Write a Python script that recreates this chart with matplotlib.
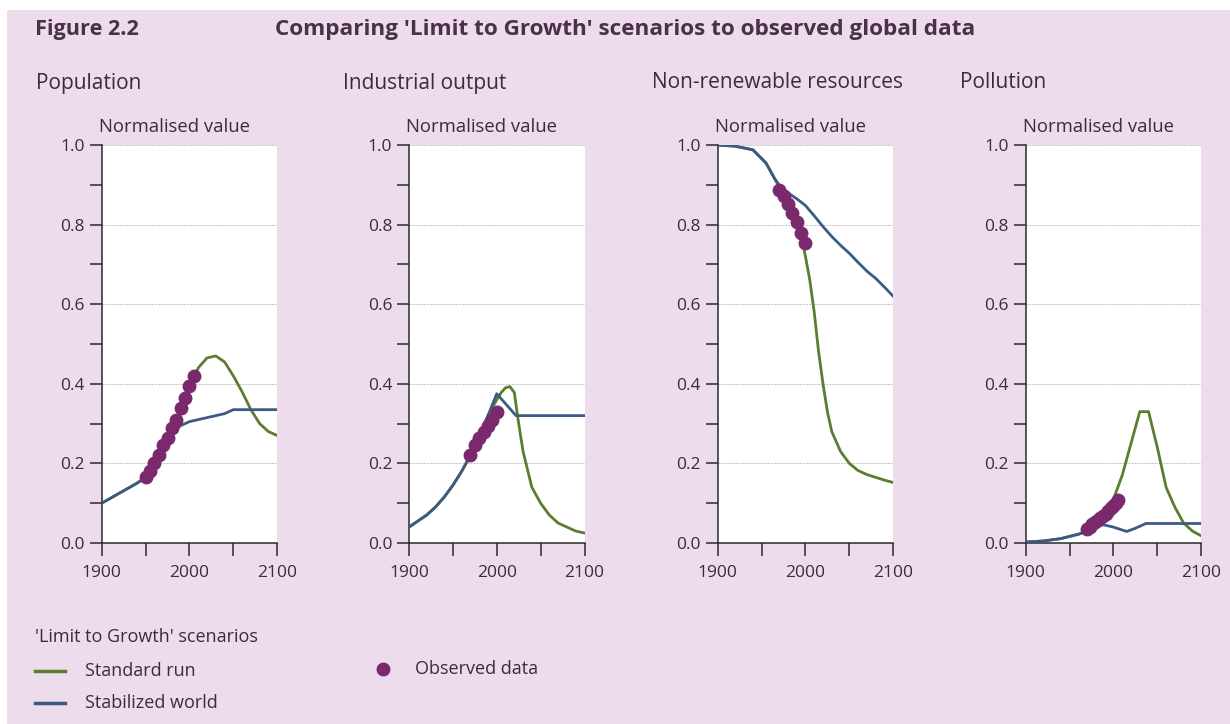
import matplotlib
matplotlib.use("Agg")
import matplotlib.pyplot as plt
from matplotlib.lines import Line2D
from matplotlib.patches import Rectangle

plt.rcParams['font.family'] = ['Open Sans', 'DejaVu Sans']

# colours
BG = '#eddcec'
GREEN = '#5b7d30'
BLUE = '#3b5b85'
PURPLE = '#7a2a6c'
TXT = '#3a2c3a'

# data
panel_titles = ['Population', 'Industrial output', 'Non-renewable resources', 'Pollution']

pop_std_x = [1900, 1920, 1940, 1950, 1960, 1970, 1980, 1990, 2000, 2010, 2020, 2030, 2040, 2050, 2060, 2070, 2080, 2090, 2100]
pop_std_y = [0.10, 0.125, 0.15, 0.165, 0.19, 0.225, 0.27, 0.33, 0.39, 0.44, 0.465, 0.47, 0.455, 0.42, 0.38, 0.335, 0.30, 0.28, 0.27]
pop_stab_x = [1900, 1920, 1940, 1950, 1960, 1970, 1980, 1985, 1990, 2000, 2010, 2020, 2030, 2040, 2050, 2060, 2100]
pop_stab_y = [0.10, 0.125, 0.15, 0.165, 0.19, 0.225, 0.27, 0.285, 0.295, 0.305, 0.31, 0.315, 0.32, 0.325, 0.335, 0.335, 0.335]
pop_obs_x = [1950, 1955, 1960, 1965, 1970, 1975, 1980, 1985, 1990, 1995, 2000, 2005]
pop_obs_y = [0.165, 0.18, 0.20, 0.22, 0.245, 0.265, 0.29, 0.31, 0.34, 0.365, 0.395, 0.42]

ind_std_x = [1900, 1910, 1920, 1930, 1940, 1950, 1960, 1970, 1980, 1990, 1995, 2000, 2005, 2010, 2015, 2020, 2025, 2030, 2040, 2050, 2060, 2070, 2080, 2090, 2100]
ind_std_y = [0.04, 0.055, 0.07, 0.09, 0.115, 0.145, 0.18, 0.22, 0.27, 0.32, 0.34, 0.36, 0.378, 0.39, 0.393, 0.378, 0.30, 0.23, 0.14, 0.10, 0.07, 0.05, 0.04, 0.03, 0.025]
ind_stab_x = [1900, 1910, 1920, 1930, 1940, 1950, 1960, 1970, 1980, 1990, 2000, 2010, 2022, 2100]
ind_stab_y = [0.04, 0.055, 0.07, 0.09, 0.115, 0.145, 0.18, 0.22, 0.27, 0.32, 0.375, 0.35, 0.32, 0.32]
ind_obs_x = [1970, 1975, 1980, 1985, 1990, 1995, 2000]
ind_obs_y = [0.22, 0.245, 0.265, 0.28, 0.295, 0.31, 0.33]

res_std_x = [1900, 1920, 1940, 1955, 1965, 1970, 1980, 1990, 1995, 2000, 2005, 2010, 2015, 2020, 2025, 2030, 2040, 2050, 2060, 2070, 2080, 2090, 2100]
res_std_y = [1.0, 0.997, 0.988, 0.955, 0.915, 0.895, 0.86, 0.81, 0.775, 0.72, 0.66, 0.58, 0.48, 0.40, 0.33, 0.28, 0.23, 0.20, 0.182, 0.172, 0.165, 0.158, 0.152]
res_stab_x = [1900, 1920, 1940, 1955, 1965, 1970, 1980, 1990, 2000, 2010, 2020, 2030, 2040, 2050, 2060, 2070, 2080, 2090, 2100]
res_stab_y = [1.0, 0.997, 0.988, 0.955, 0.915, 0.90, 0.88, 0.865, 0.848, 0.822, 0.795, 0.77, 0.748, 0.728, 0.705, 0.683, 0.665, 0.643, 0.62]
res_obs_x = [1970, 1975, 1980, 1985, 1990, 1995, 2000]
res_obs_y = [0.888, 0.872, 0.852, 0.828, 0.806, 0.78, 0.755]

pol_std_x = [1900, 1920, 1940, 1960, 1970, 1980, 1990, 2000, 2010, 2020, 2030, 2040, 2050, 2060, 2070, 2080, 2090, 2100]
pol_std_y = [0.0025, 0.005, 0.011, 0.022, 0.03, 0.045, 0.07, 0.11, 0.17, 0.25, 0.33, 0.33, 0.24, 0.14, 0.09, 0.05, 0.03, 0.018]
pol_stab_x = [1900, 1920, 1940, 1960, 1970, 1980, 1988, 2000, 2015, 2025, 2037, 2100]
pol_stab_y = [0.0025, 0.005, 0.011, 0.022, 0.03, 0.042, 0.046, 0.04, 0.029, 0.037, 0.049, 0.049]
pol_obs_x = [1970, 1973, 1976, 1979, 1982, 1985, 1988, 1991, 1994, 1997, 2000, 2003, 2005]
pol_obs_y = [0.035, 0.041, 0.047, 0.053, 0.058, 0.063, 0.068, 0.074, 0.08, 0.087, 0.094, 0.101, 0.107]

series = [
    (pop_std_x, pop_std_y, pop_stab_x, pop_stab_y, pop_obs_x, pop_obs_y),
    (ind_std_x, ind_std_y, ind_stab_x, ind_stab_y, ind_obs_x, ind_obs_y),
    (res_std_x, res_std_y, res_stab_x, res_stab_y, res_obs_x, res_obs_y),
    (pol_std_x, pol_std_y, pol_stab_x, pol_stab_y, pol_obs_x, pol_obs_y),
]

W, H = 1230, 724
fig = plt.figure(figsize=(W / 100, H / 100), dpi=100)
fig.patch.set_facecolor('white')
# pink panel with a thin white border at top and left
fig.add_artist(Rectangle((7 / W, 0), 1, 1 - 10 / H, transform=fig.transFigure,
                         facecolor=BG, edgecolor='none', zorder=0))

def px(x, y):
    return x / W, 1 - y / H

lefts = [101.7, 409, 717.7, 1025.7]
for i, left in enumerate(lefts):
    sx, sy, bx, by, ox, oy = series[i]
    ax = fig.add_axes([left / W, 181 / H, 175.5 / W, 398 / H])
    ax.set_facecolor('white')
    ax.set_xlim(1900, 2100)
    ax.set_ylim(0, 1.0)
    for y in [0.2, 0.4, 0.6, 0.8, 1.0]:
        ax.axhline(y, color='#c4c4c4', lw=0.7, ls=(0, (2, 1)), zorder=1)
    ax.plot(bx, by, color=BLUE, lw=2.0, zorder=3, solid_joinstyle='round')
    ax.plot(sx, sy, color=GREEN, lw=2.0, zorder=2, solid_joinstyle='round')
    ax.plot(ox, oy, 'o', color=PURPLE, ms=9, mec=PURPLE, zorder=4)
    for s in ['top', 'right']:
        ax.spines[s].set_visible(False)
    for s in ['left', 'bottom']:
        ax.spines[s].set_color('#2a2a2a')
        ax.spines[s].set_linewidth(1.1)
    ax.set_xticks([1900, 1950, 2000, 2050, 2100])
    ax.set_xticklabels(['1900', '', '2000', '', '2100'])
    ax.set_yticks([0, 0.1, 0.2, 0.3, 0.4, 0.5, 0.6, 0.7, 0.8, 0.9, 1.0])
    ax.set_yticklabels(['0.0', '', '0.2', '', '0.4', '', '0.6', '', '0.8', '', '1.0'])
    ax.tick_params(direction='out', length=9, width=1.1, color='#2a2a2a',
                   labelsize=12.5, labelcolor=TXT, pad=7)
    ax.tick_params(axis='y', pad=3)

    tx, ty = px(left - 66, 83)
    fig.text(tx, ty, panel_titles[i], fontsize=15, color=TXT, va='center', ha='left')
    nx, ny = px(left + 73, 127)
    fig.text(nx, ny, 'Normalised value', fontsize=13.3, color=TXT, va='center', ha='center')

x, y = px(35, 30)
fig.text(x, y, 'Figure 2.2', fontsize=15.6, fontweight='bold', color='#4a3048', va='center')
x, y = px(275, 30)
fig.text(x, y, "Comparing 'Limit to Growth' scenarios to observed global data",
         fontsize=16.2, fontweight='bold', color='#4a3048', va='center')

# legend
x, y = px(35, 637)
fig.text(x, y, "'Limit to Growth' scenarios", fontsize=13, color=TXT, va='center')
for ypix, col, lab in [(671, GREEN, 'Standard run'), (703, BLUE, 'Stabilized world')]:
    x0, yy = px(35, ypix)
    x1, _ = px(65, ypix)
    fig.add_artist(Line2D([x0, x1], [yy, yy], color=col, lw=2.5, transform=fig.transFigure))
    xt, _ = px(85, ypix)
    fig.text(xt, yy, lab, fontsize=13, color=TXT, va='center')
xd, yd = px(383, 669)
fig.add_artist(Line2D([xd], [yd], marker='o', ms=9, color=PURPLE, lw=0, transform=fig.transFigure))
xt, _ = px(415, 669)
fig.text(xt, yd, 'Observed data', fontsize=13, color=TXT, va='center')

fig.savefig('out.png', dpi=100, facecolor=fig.get_facecolor())
